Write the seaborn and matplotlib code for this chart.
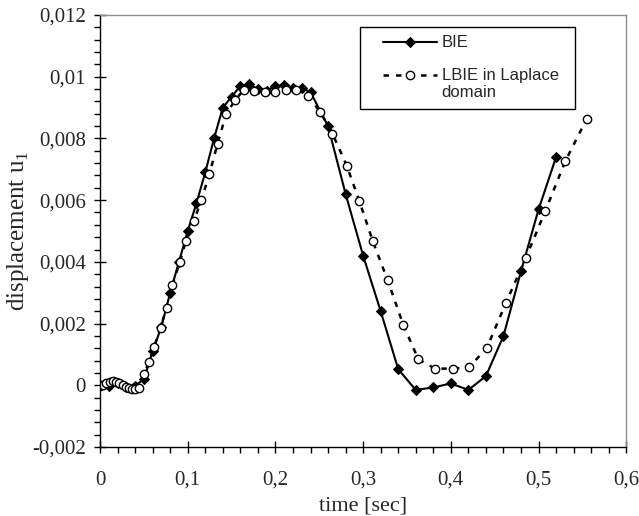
import numpy as np
import pandas as pd
import matplotlib
matplotlib.use("Agg")
import matplotlib.pyplot as plt
from matplotlib.ticker import FixedLocator, FixedFormatter, MultipleLocator
import seaborn as sns

# BIE solution (filled diamonds)
bie_t = [0, 0.01, 0.02, 0.03, 0.04, 0.05, 0.06, 0.07, 0.08, 0.09, 0.10, 0.11, 0.12, 0.13,
         0.14, 0.15, 0.16, 0.17, 0.18, 0.19, 0.20, 0.21, 0.22, 0.23, 0.24, 0.26, 0.28, 0.30,
         0.32, 0.34, 0.36, 0.38, 0.40, 0.42, 0.44, 0.46, 0.48, 0.50, 0.52]
bie_u = [0, -0.00003, 0.00008, -0.00004, -0.00002, 0.0002, 0.0011, 0.0019, 0.0030, 0.0040,
         0.0050, 0.0059, 0.0069, 0.0080, 0.0090, 0.00935, 0.0097, 0.00975, 0.0096, 0.00955,
         0.0097, 0.00972, 0.00965, 0.00963, 0.0095, 0.0084, 0.0062, 0.0042, 0.0024, 0.00052,
         -0.00015, -0.00007, 0.00006, -0.00015, 0.0003, 0.0016, 0.0037, 0.0057, 0.0074]

# LBIE in Laplace domain (open circles)
lbie_t = [0, 0.0037, 0.0074, 0.011, 0.0147, 0.0184, 0.022, 0.0257, 0.0294, 0.033, 0.0367,
          0.0404, 0.044, 0.050, 0.056, 0.0616, 0.069, 0.076, 0.0825, 0.091, 0.098, 0.107,
          0.1155, 0.1247, 0.134, 0.1437, 0.154, 0.164, 0.1757, 0.188, 0.1996, 0.212, 0.224,
          0.2376, 0.251, 0.265, 0.2814, 0.2958, 0.311, 0.328, 0.346, 0.363, 0.382, 0.402,
          0.421, 0.441, 0.4628, 0.4856, 0.5076, 0.5304, 0.555]
lbie_u = [-0.00003, 0.00002, 0.00007, 0.00011, 0.00013, 0.00011, 0.00006, 0.0, -0.00006,
          -0.0001, -0.00012, -0.00011, -0.00008, 0.00036, 0.00075, 0.00124, 0.00187, 0.00252,
          0.00324, 0.0040, 0.00468, 0.00532, 0.0060, 0.00684, 0.00783, 0.00878, 0.00924,
          0.00958, 0.00954, 0.0095, 0.0095, 0.00958, 0.00958, 0.00937, 0.00886, 0.00816,
          0.00711, 0.00596, 0.00467, 0.0034, 0.00194, 0.00084, 0.00054, 0.00054, 0.00059,
          0.00121, 0.00267, 0.00414, 0.00564, 0.00726, 0.00864]

x_ticks = [0, 0.1, 0.2, 0.3, 0.4, 0.5, 0.6]
x_labels = ["0", "0,1", "0,2", "0,3", "0,4", "0,5", "0,6"]
y_ticks = [-0.002, 0, 0.002, 0.004, 0.006, 0.008, 0.01, 0.012]
y_labels = ["-0,002", "0", "0,002", "0,004", "0,006", "0,008", "0,01", "0,012"]

sns.set_style("white")
plt.rcParams["font.family"] = ["Liberation Serif", "DejaVu Serif"]
plt.rcParams["mathtext.fontset"] = "custom"
plt.rcParams["mathtext.rm"] = "Liberation Serif"

bie = pd.DataFrame({"t": bie_t, "u": bie_u})
lbie = pd.DataFrame({"t": lbie_t, "u": lbie_u})

fig = plt.figure(figsize=(6.39, 5.16), dpi=100)
ax = fig.add_axes([0.1565, 0.1337, 0.8236, 0.8372])

sns.lineplot(data=bie, x="t", y="u", ax=ax, color="black", lw=1.5, marker="D",
             markersize=5, markeredgecolor="black", markerfacecolor="black",
             label="BIE", sort=False, estimator=None)
sns.lineplot(data=lbie, x="t", y="u", ax=ax, color="black", lw=1.8,
             linestyle=(0, (2.2, 2.8)), marker="o", markersize=6,
             markeredgecolor="black", markerfacecolor="white", markeredgewidth=1.0,
             label="LBIE in Laplace\ndomain", sort=False, estimator=None)

ax.set_xlim(0, 0.6)
ax.set_ylim(-0.002, 0.012)
ax.xaxis.set_major_locator(FixedLocator(x_ticks))
ax.xaxis.set_major_formatter(FixedFormatter(x_labels))
ax.yaxis.set_major_locator(FixedLocator(y_ticks))
ax.yaxis.set_major_formatter(FixedFormatter(y_labels))
ax.xaxis.set_minor_locator(MultipleLocator(0.02))
ax.yaxis.set_minor_locator(MultipleLocator(0.0004))

ax.tick_params(which="major", direction="inout", length=8, width=1, color="black",
               labelsize=15, bottom=True, left=True, top=False, right=False)
ax.tick_params(axis="x", which="major", pad=13)
ax.tick_params(axis="y", which="major", pad=6)
ax.tick_params(which="minor", direction="out", length=4, width=1, color="black",
               bottom=True, left=True, top=False, right=False)

for side in ["left", "bottom"]:
    ax.spines[side].set_color("black")
    ax.spines[side].set_linewidth(1.0)
for side in ["top", "right"]:
    ax.spines[side].set_color("#8c8c8c")
    ax.spines[side].set_linewidth(1.0)

ax.set_xlabel("time [sec]", fontsize=16, labelpad=5)
ax.set_ylabel("displacement u$_1$", fontsize=18, labelpad=1)

# legend box spans a fixed width; handles are pushed right to leave a wider left margin
leg = ax.legend(loc="upper left", bbox_to_anchor=(0.494, 0.5, 0.409, 0.472), mode="expand",
                borderaxespad=0, frameon=True, fancybox=False, framealpha=1,
                edgecolor="black", prop={"family": "Liberation Sans", "size": 12},
                handlelength=4.1, handletextpad=0.3, numpoints=1, borderpad=0.5,
                labelspacing=1.05)
leg.get_frame().set_linewidth(1.0)
for i, ln in enumerate(leg.get_lines()):
    xd = np.asarray(ln.get_xdata(), dtype=float)
    ln.set_xdata(np.linspace(xd[0] + 10.8, xd[-1], len(xd)))
    if i == 1:
        ln.set_ydata(np.asarray(ln.get_ydata(), dtype=float) + 7)

fig.savefig("out.png", dpi=100)
